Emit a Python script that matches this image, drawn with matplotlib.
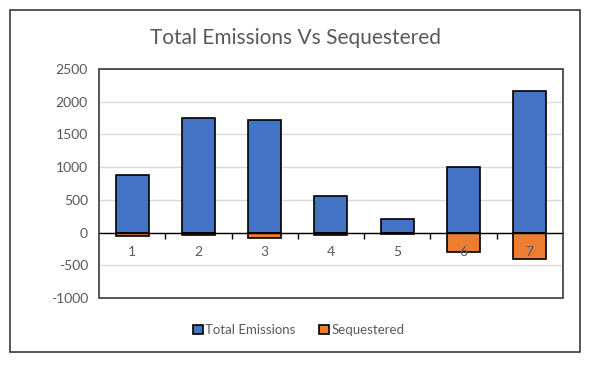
import matplotlib.pyplot as plt
from matplotlib.patches import Rectangle
import numpy as np

plt.rcParams['font.family'] = ['Lato', 'DejaVu Sans']
plt.rcParams['axes.unicode_minus'] = False

categorias = ["1", "2", "3", "4", "5", "6", "7"]
total_emisiones = [880, 1750, 1720, 560, 210, 1010, 2170]
secuestrado = [-50, -30, -90, -40, -15, -290, -400]

AZUL = "#4472C4"
NARANJA = "#ED7D31"
GRIS_TXT = "#595959"

fig = plt.figure(figsize=(6.0, 3.73), dpi=100)
# marco exterior del grafico
fig.patches.append(Rectangle((0.017, 0.056), 0.95, 0.917, transform=fig.transFigure,
                             fill=False, edgecolor="#3a3a3a", linewidth=1.2))

ax = fig.add_axes([0.165, 0.201, 0.773, 0.614])
x = np.arange(1, len(categorias) + 1)
ax.bar(x, total_emisiones, width=0.5, color=AZUL, edgecolor="black", linewidth=1.2,
       label="Total Emissions", zorder=3)
ax.bar(x, secuestrado, width=0.5, color=NARANJA, edgecolor="black", linewidth=1.2,
       label="Sequestered", zorder=3)

ax.set_xlim(0.5, len(categorias) + 0.5)
ax.set_ylim(-1000, 2500)
ax.set_yticks(range(-1000, 2501, 500))
ax.yaxis.grid(True, color="#D9D9D9", linewidth=1.0, zorder=0)
ax.tick_params(axis="y", length=0, labelsize=10, labelcolor=GRIS_TXT, pad=8)

# eje x cruzando en cero
for s in ["top", "left", "right"]:
    ax.spines[s].set_visible(False)
ax.spines["bottom"].set_position(("data", 0))
ax.spines["bottom"].set_color("black")
ax.spines["bottom"].set_linewidth(1.0)
ax.spines["bottom"].set_zorder(4)
ax.set_xticks(np.arange(1.5, len(categorias), 1.0))
ax.set_xticklabels([])
ax.set_xticks(x, minor=True)
ax.set_xticklabels(categorias, minor=True)
ax.tick_params(axis="x", which="major", direction="out", length=4, width=1.0, color="black")
ax.tick_params(axis="x", which="minor", length=0, labelsize=10, labelcolor=GRIS_TXT, pad=10)
ax.xaxis.set_zorder(4)  # etiquetas encima de las barras
ax.add_patch(Rectangle((0, 0), 1, 1, transform=ax.transAxes, fill=False,
                       edgecolor="#3a3a3a", linewidth=1.2, zorder=5, clip_on=False))

fig.text(0.492, 0.898, "Total Emissions Vs Sequestered", ha="center", va="center",
         fontsize=15, color=GRIS_TXT)

handles, labels = ax.get_legend_handles_labels()
fig.legend(handles, labels, loc="center", bbox_to_anchor=(0.498, 0.115), ncol=2,
           frameon=False, fontsize=9.5, labelcolor=GRIS_TXT, handlelength=0.7,
           handleheight=0.7, handletextpad=0.2, columnspacing=1.8)

fig.savefig("out.png", dpi=100)
